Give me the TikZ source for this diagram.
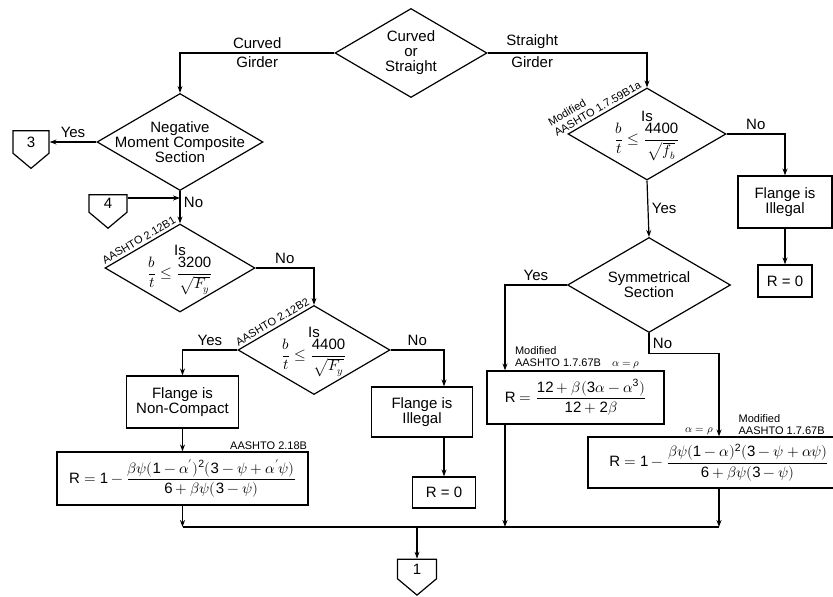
\documentclass[tikz,border=0pt]{standalone}
\usepackage{amsmath}
\usepackage{unicode-math}
\setmainfont{Liberation Sans}
\setmathfont{Latin Modern Math}
\setmathfont[range=up/num]{Liberation Sans}
\usetikzlibrary{shapes.geometric, shapes.symbols, arrows.meta, positioning}

\tikzset{
  decision/.style={diamond, draw, inner sep=0pt},
  block/.style={rectangle, draw, align=center, inner sep=2pt},
  offpage/.style={signal, draw, signal to=south, signal pointer angle=100, inner sep=0pt},
  flow/.style={-{Stealth[length=7pt, width=5pt]}},
  tag/.style={font=\fontsize{11}{12}\selectfont},
}

\begin{document}
\begin{tikzpicture}[x=1pt, y=-1pt, line width=1.2pt, font=\fontsize{15}{15}\selectfont]
\useasboundingbox (0,0) rectangle (833,597);

% decisions
\node[decision, minimum width=152pt, minimum height=89pt] (cs) at (411,53) {};
\node[align=center] (cstext) at (cs.center) {Curved\\or\\Straight};
\node[decision, minimum width=166pt, minimum height=97pt] (neg) at (180,142) {};
\node[align=center] (negtext) at (neg.center) {Negative\\Moment Composite\\Section};
\node[decision, minimum width=150pt, minimum height=88pt] (qa) at (180,268) {};
\node[align=center] (qatext) at ([yshift=-2pt]qa.center) {Is\\$\dfrac{b}{t}\le\dfrac{3200}{\sqrt{F_y}}$};
\node[decision, minimum width=152pt, minimum height=89pt] (qb) at (314,350) {};
\node[align=center] (qbtext) at ([yshift=-2pt]qb.center) {Is\\$\dfrac{b}{t}\le\dfrac{4400}{\sqrt{F_y}}$};
\node[decision, minimum width=158pt, minimum height=92pt] (qc) at (647,134) {};
\node[align=center] (qctext) at ([yshift=-2pt]qc.center) {Is\\$\dfrac{b}{t}\le\dfrac{4400}{\sqrt{f_b}}$};
\node[decision, minimum width=163pt, minimum height=95pt] (sym) at (649,285) {};
\node[align=center] (symtext) at (sym.center) {Symmetrical\\Section};

% blocks
\node[block, minimum width=112pt, minimum height=52pt] (nc) at (182.5,402) {Flange is\\Non-Compact};
\node[block, minimum width=251pt, minimum height=53pt] (rl) at (182.5,478.5)
  {$\text{R}=1-\dfrac{\beta\psi(1-\alpha')^2(3-\psi+\alpha'\psi)}{6+\beta\psi(3-\psi)}$};
\node[block, minimum width=101pt, minimum height=50pt] (il) at (422,412) {Flange is\\Illegal};
\node[block, minimum width=63pt, minimum height=31pt] (rz) at (444,492.5) {R = 0};
\node[block, minimum width=94pt, minimum height=52pt] (ir) at (785,202) {Flange is\\Illegal};
\node[block, minimum width=54pt, minimum height=32pt] (rzr) at (785,281) {R = 0};
\node[block, minimum width=177pt, minimum height=53pt] (rm) at (575.5,397.5)
  {$\text{R}=\dfrac{12+\beta(3\alpha-\alpha^3)}{12+2\beta}$};
\node[block, minimum width=262pt, minimum height=51pt] (rr) at (719,462.5)
  {$\text{R}=1-\dfrac{\beta\psi(1-\alpha)^2(3-\psi+\alpha\psi)}{6+\beta\psi(3-\psi)}$};

% off-page connectors
\node[offpage, minimum width=36pt, minimum height=26pt] (c3) at (31,142) {3};
\node[offpage, minimum width=38pt, minimum height=21pt] (c4) at (108,203.5) {4};
\node[offpage, minimum width=39pt, minimum height=23pt] (c1) at (417,569) {1};

% references
\path (qa.west) -- node[sloped, above, tag, inner sep=2pt] (refqa) {AASHTO 2.12B1} (qa.north);
\path (qb.west) -- node[sloped, above, tag, inner sep=2pt] (refqb) {AASHTO 2.12B2} (qb.north);
\path (qc.west) -- node[pos=0.42, sloped, above, tag, align=left, inner sep=2pt] (refqc) {Modified\\AASHTO 1.7.59B1a} (qc.north);
\node[tag, anchor=south east, inner sep=1pt] (refrl) at (rl.north east) {AASHTO 2.18B};
\node[tag, anchor=south west, align=left, inner sep=1pt] (refrm) at ([xshift=27pt]rm.north west) {Modified\\AASHTO 1.7.67B\quad$\alpha=\rho$};
\node[tag, anchor=south east, inner sep=1pt] (arr) at ([xshift=-4pt]rr.north) {$\alpha=\rho$};
\node[tag, anchor=south west, align=left, inner sep=1pt] (refrr) at ([xshift=18pt]rr.north) {Modified\\AASHTO 1.7.67B};

% joints
\coordinate (j4) at (180,198);
\coordinate (mL) at (182.5,527);
\coordinate (mC) at (417,527);
\coordinate (mM) at (505,527);
\coordinate (mR) at (719,527);

% connectors
\draw[flow] (cs.west) -| node[pos=0.25, above] (lcur) {Curved} node[pos=0.25, below] (lgir1) {Girder} (neg.north);
\draw[flow] (cs.east) -| node[pos=0.14, above] (lstr) {Straight} node[pos=0.14, below] (lgir2) {Girder} (qc.north);
\draw[flow] (neg.west) -- node[above] (lyes1) {Yes} (c3.east |- neg.west);
\draw[flow] (c4.east |- j4) -- (j4);
\draw[flow] (neg.south) -- node[right, pos=0.35] (lno1) {No} (qa.north);
\draw[flow] (qa.east) -| node[pos=0.25, above] (lno2) {No} (qb.north);
\draw[flow] (qb.west) -| node[pos=0.25, above] (lyes2) {Yes} (nc.north);
\draw[flow] (qb.east) -| node[pos=0.25, above] (lno3) {No} (il.north -| rz.north);
\draw[flow] (il.south -| rz.north) -- (rz.north);
\draw[flow] (nc.south) -- (rl.north);
\draw[flow] (qc.east) -| node[pos=0.25, above] (lno4) {No} (ir.north);
\draw[flow] (ir.south) -- (rzr.north);
\draw[flow] (qc.south) -- node[right] (lyes3) {Yes} (sym.north);
\draw[flow] (sym.west) -| node[pos=0.25, above] (lyes4) {Yes} (rm.north west -| mM);
\draw[flow] (sym.south) -- node[right] (lno5) {No} ++(0,20) -| (rr.north);
\draw[flow] (rl.south) -- (mL);
\draw[flow] (rm.south west -| mM) -- (mM);
\draw[flow] (rr.south) -- (mR);
\draw (mL) -- (mR);
\draw[flow] (mC) -- (c1.north);
\end{tikzpicture}
\end{document}
